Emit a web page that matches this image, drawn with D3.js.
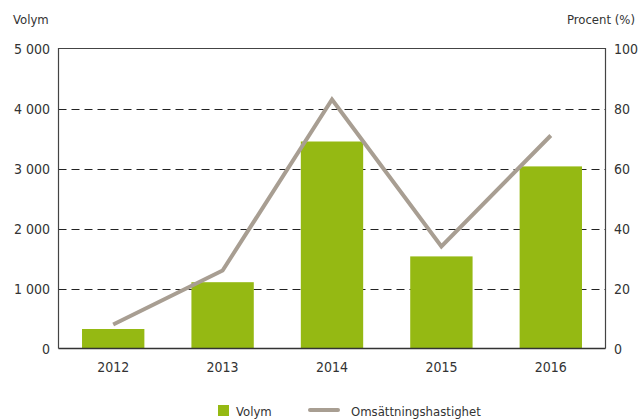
<!DOCTYPE html>
<html><head><meta charset="utf-8">
<script src="https://cdn.jsdelivr.net/npm/d3@7"></script>
<style>
body{margin:0;background:#fff;}
text{font-family:"DejaVu Sans Condensed","DejaVu Sans",sans-serif;fill:#333;}
</style></head>
<body><svg id="c" width="639" height="419"></svg>
<script>
const years = ["2012","2013","2014","2015","2016"];
const volym = [325, 1105, 3450, 1535, 3035];
const procent = [8, 26, 83, 34, 71];
const leftTicks = [0,1000,2000,3000,4000,5000];
const rightTicks = [0,20,40,60,80,100];

const svg = d3.select("#c");
const L=58.5, R=605.5, T=48.5, B=348.5;
const x = d3.scaleBand().domain(years).range([L,R]).paddingInner(0.43).paddingOuter(0.215);
const yL = d3.scaleLinear().domain([0,5000]).range([B,T]);
const yR = d3.scaleLinear().domain([0,100]).range([B,T]);
const fmt = d => d3.format(",")(d).replace(/,/g," ");

// gridlines
svg.append("g").selectAll("line").data(leftTicks.filter(d=>d>0&&d<5000)).join("line")
  .attr("x1",L).attr("x2",R).attr("y1",d=>Math.round(yL(d))+0.5).attr("y2",d=>Math.round(yL(d))+0.5)
  .attr("stroke","#222").attr("stroke-width",1).attr("stroke-dasharray","8,5");

// bars
svg.append("g").selectAll("rect").data(volym).join("rect")
  .attr("x",(d,i)=>x(years[i])).attr("width",x.bandwidth())
  .attr("y",d=>yL(d)).attr("height",d=>B-yL(d)).attr("fill","#95b913");

// frame
svg.append("path").attr("d",`M${L},${B}V${T}H${R}V${B}`).attr("fill","none").attr("stroke","#444").attr("stroke-width",1.2);
svg.append("line").attr("x1",L).attr("x2",R).attr("y1",B).attr("y2",B).attr("stroke","#333").attr("stroke-width",1.5);

// line
const line = d3.line().x((d,i)=>x(years[i])+x.bandwidth()/2).y(d=>yR(d));
svg.append("path").datum(procent).attr("d",line).attr("fill","none")
  .attr("stroke","#a89e92").attr("stroke-width",4).attr("stroke-linejoin","miter");

// axes labels
svg.append("g").selectAll("text").data(leftTicks).join("text")
  .attr("x",50).attr("y",d=>yL(d)+5).attr("text-anchor","end").attr("font-size",14).text(fmt);
svg.append("g").selectAll("text").data(rightTicks).join("text")
  .attr("x",614).attr("y",d=>yR(d)+5).attr("text-anchor","start").attr("font-size",14).text(d=>d);
svg.append("g").selectAll("text").data(years).join("text")
  .attr("x",d=>x(d)+x.bandwidth()/2).attr("y",372).attr("text-anchor","middle").attr("font-size",14).text(d=>d);

svg.append("text").attr("x",13).attr("y",24).attr("font-size",13).text("Volym");
svg.append("text").attr("x",635).attr("y",24).attr("text-anchor","end").attr("font-size",13).text("Procent (%)");

// legend
svg.append("rect").attr("x",218).attr("y",405).attr("width",11).attr("height",11).attr("fill","#95b913");
svg.append("text").attr("x",236).attr("y",416).attr("font-size",13).text("Volym");
svg.append("line").attr("x1",310).attr("x2",338).attr("y1",410).attr("y2",410).attr("stroke","#a89e92").attr("stroke-width",4).attr("stroke-linecap","round");
svg.append("text").attr("x",351).attr("y",416).attr("font-size",13).text("Omsättningshastighet");
</script></body></html>
